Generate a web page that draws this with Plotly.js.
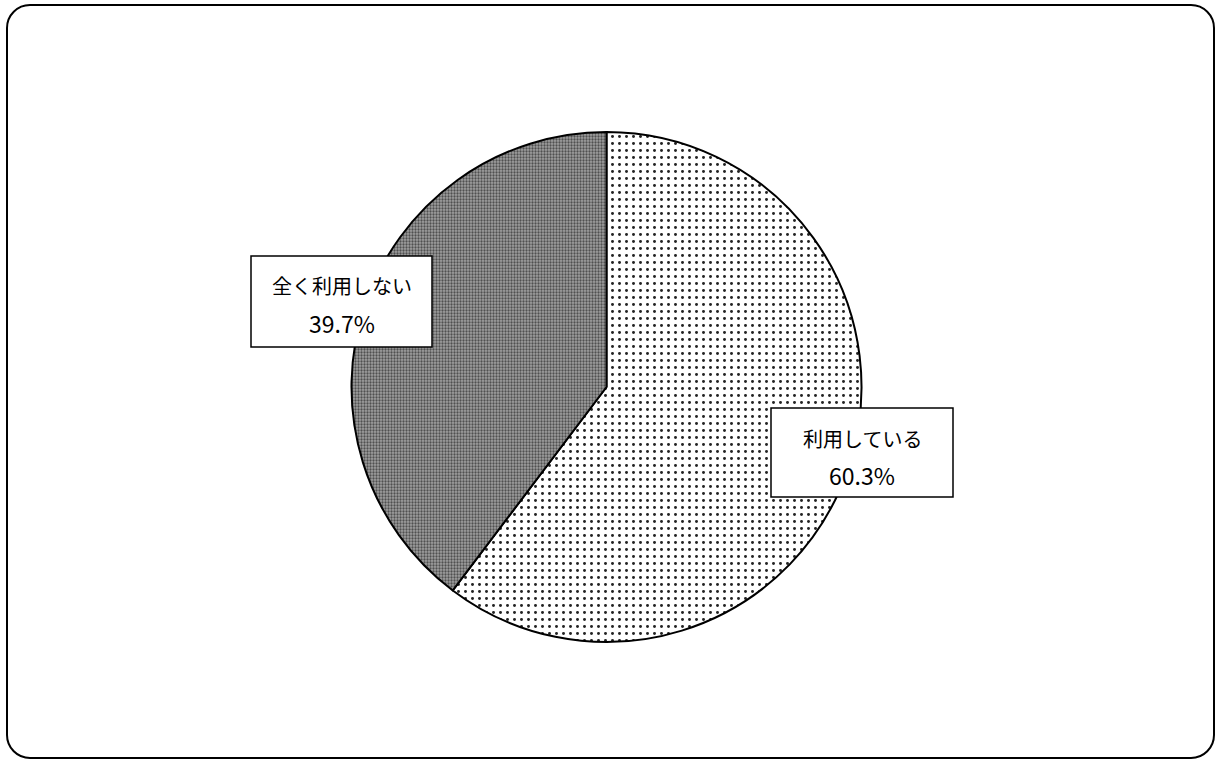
<!DOCTYPE html>
<html><head><meta charset="utf-8">
<script src="https://cdn.plot.ly/plotly-3.0.1.min.js"></script>
<style>
html,body{margin:0;padding:0;background:#fff;}
#plot{position:absolute;left:0;top:0;width:1219px;height:762px;}
#frame{position:absolute;left:6px;top:4px;width:1205px;height:751px;border:2px solid #000;border-radius:24px;pointer-events:none;}
</style></head>
<body>
<div id="plot"></div>
<div id="frame"></div>
<script>
const categories = ["利用している", "全く利用しない"];
const values = [60.3, 39.7];
const valueLabels = ["60.3%", "39.7%"];

const W = 1219, H = 762;
const cx = 606.5, cy = 387, r = 255;
const px = x => x / W, py = y => 1 - y / H;

const trace = {
  type: 'pie',
  labels: categories,
  values: values,
  sort: false,
  direction: 'clockwise',
  rotation: 0,
  textinfo: 'none',
  hoverinfo: 'label+percent',
  domain: {x: [px(cx - r), px(cx + r)], y: [py(cy + r), py(cy - r)]},
  marker: {
    colors: ['#ffffff', '#8c8c8c'],
    line: {color: '#000', width: 2},
    pattern: {
      shape: ['.', '.'],
      fgcolor: ['#222222', '#505050'],
      bgcolor: ['#ffffff', '#a0a0a0'],
      size: [7, 3],
      solidity: [0.14, 0.45],
      fillmode: 'replace'
    }
  },
  showlegend: false
};

// label boxes (pixel geometry)
const boxes = [
  {x0: 771, x1: 953, y0: 408, y1: 497},
  {x0: 251, x1: 432, y0: 256, y1: 347}
];
const shapes = boxes.map(b => ({
  type: 'rect', xref: 'paper', yref: 'paper',
  x0: px(b.x0), x1: px(b.x1), y0: py(b.y1), y1: py(b.y0),
  line: {color: '#000', width: 1.5}, fillcolor: '#fff', layer: 'above'
}));
const annotations = [];
boxes.forEach((b, i) => {
  const xc = px((b.x0 + b.x1) / 2);
  annotations.push({xref: 'paper', yref: 'paper', x: xc, y: py(b.y0 + 30), text: categories[i],
    showarrow: false, xanchor: 'center', yanchor: 'middle', font: {size: 20, color: '#000'}});
  annotations.push({xref: 'paper', yref: 'paper', x: xc, y: py(b.y0 + 67), text: valueLabels[i],
    showarrow: false, xanchor: 'center', yanchor: 'middle', font: {size: 23, color: '#000'}});
});

const layout = {
  width: W, height: H,
  margin: {l: 0, r: 0, t: 0, b: 0},
  paper_bgcolor: '#fff',
  font: {family: '"Noto Sans CJK JP", "Noto Sans", sans-serif', color: '#000'},
  shapes: shapes,
  annotations: annotations
};
Plotly.newPlot('plot', [trace], layout, {displayModeBar: false, staticPlot: true});
</script>
</body></html>
